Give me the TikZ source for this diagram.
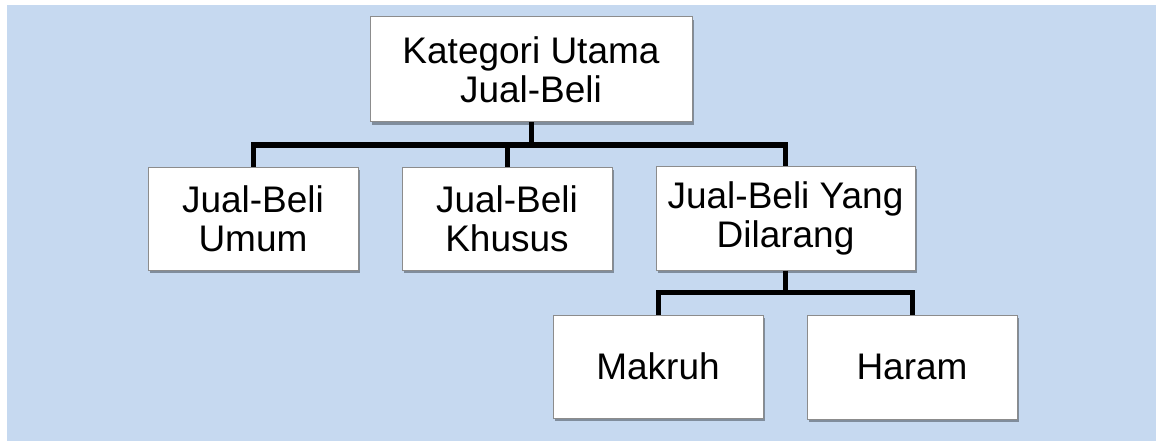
\documentclass[tikz,border=0pt]{standalone}
\usepackage{fontspec}
\setmainfont{Liberation Sans}
\usetikzlibrary{shadows}
\definecolor{bgblue}{RGB}{198,217,240}
\definecolor{boxedge}{RGB}{140,140,140}
\begin{document}
\begin{tikzpicture}[x=1pt,y=-1pt,
  box/.style={draw=boxedge, line width=1pt, fill=white, inner sep=0pt, align=center,
    font=\fontsize{37}{39}\selectfont,
    drop shadow={shadow xshift=2pt, shadow yshift=-3pt, opacity=0.35, fill=black}},
  conn/.style={line width=5pt, draw=black}]
\useasboundingbox (0,0) rectangle (1156,441);
\fill[bgblue] (7,5) rectangle (1156,441);
\node[box, minimum width=322pt, minimum height=105pt] (top) at (531,69.5) {Kategori Utama\\Jual-Beli};
\node[box, minimum width=210pt, minimum height=103pt] (umum) at (253,218.5) {Jual-Beli\\Umum};
\node[box, minimum width=210pt, minimum height=103pt] (khusus) at (507,218.5) {Jual-Beli\\Khusus};
\node[box, minimum width=259pt, minimum height=104pt] (dil) at (785.5,218) {Jual-Beli Yang\\Dilarang};
\node[box, minimum width=210pt, minimum height=103pt] (makruh) at (658,366.5) {Makruh};
\node[box, minimum width=210pt, minimum height=104pt] (haram) at (912,367) {Haram};
\coordinate (b1) at (531,145);
\coordinate (b2) at (785.5,292);
\draw[conn] (umum.north) |- (b1) -| (dil.north);
\draw[conn] (top.south) -- (b1);
\draw[conn] (khusus.north) -- (khusus.north |- b1);
\draw[conn] (makruh.north) |- (b2) -| (haram.north);
\draw[conn] (dil.south) -- (b2);
\end{tikzpicture}
\end{document}
